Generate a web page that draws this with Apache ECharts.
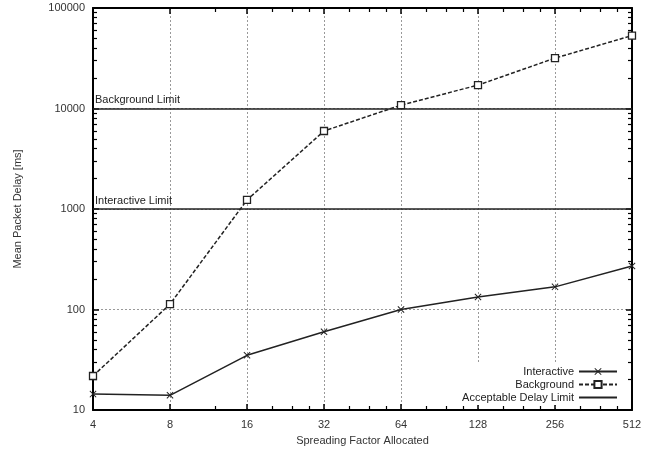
<!DOCTYPE html>
<html>
<head>
<meta charset="utf-8">
<script src="https://cdn.jsdelivr.net/npm/echarts@6/dist/echarts.min.js"></script>
<style>
html, body { margin: 0; padding: 0; background: #fff; }
#chart { width: 652px; height: 452px; }
</style>
</head>
<body>
<div id="chart"></div>
<script>
// data
var spreadingFactors = [4, 8, 16, 32, 64, 128, 256, 512];
var interactiveDelay = [14.4, 14, 35, 60, 100, 133, 168, 271];
var backgroundDelay = [21.8, 113, 1230, 5970, 10800, 17100, 31700, 53200];
var limitNames = ['Interactive Limit', 'Background Limit'];
var limitValues = [1000, 10000];

// minor tick positions (gnuplot style)
var xMinorTicks = [12, 20, 24, 28, 40, 48, 56, 80, 96, 112, 160, 192, 224, 320, 384, 448];
var yDecades = [10, 100, 1000, 10000];
var yMinorSteps = [2, 3, 4, 5, 6, 7, 8, 9];
var yMinorTicks = [];
yDecades.forEach(d => yMinorSteps.forEach(s => yMinorTicks.push(d * s)));

var FONT = 'Liberation Sans, Arial, sans-serif';
var INK = '#222';

// thick "x" marker like gnuplot point type 2
var crossPath = 'path://M0,1L1,0L5,4L9,0L10,1L6,5L10,9L9,10L5,6L1,10L0,9L4,5Z';

const pairs = (xs, ys) => xs.map((x, i) => [x, ys[i]]);

const xRange = { type: 'log', logBase: 2, min: 4, max: 512 };
const yRange = { type: 'log', logBase: 10, min: 10, max: 100000 };

// box side with major ticks
const majorAxis = (range, pos) => {
    return Object.assign({}, range, {
        position: pos,
        axisLine: { show: true, lineStyle: { color: '#000', width: 2 } },
        axisTick: { show: true, inside: true, length: 6, lineStyle: { color: '#000', width: 1.5 } },
        axisLabel: { show: false },
        splitLine: { show: false }
    });
};
// axis carrying only the minor ticks
const minorAxis = (range, pos, values) => {
    return Object.assign({}, range, {
        position: pos,
        axisLine: { show: false },
        axisTick: { show: true, inside: true, length: 4, customValues: values, lineStyle: { color: '#000', width: 1.2 } },
        axisLabel: { show: false, customValues: values },
        splitLine: { show: false }
    });
};

var chart = echarts.init(document.getElementById('chart'), null, { renderer: 'canvas' });

var xMain = majorAxis(xRange, 'bottom');
xMain.name = 'Spreading Factor Allocated';
xMain.nameLocation = 'middle';
xMain.nameGap = 25;
xMain.nameTextStyle = { fontSize: 11, color: '#333', fontFamily: FONT };
xMain.axisLabel = { show: true, fontSize: 11, color: '#333', margin: 9, fontFamily: FONT };
xMain.splitLine = { show: true, lineStyle: { type: [2, 2], color: '#999', width: 1 } };

var yMain = majorAxis(yRange, 'left');
yMain.name = 'Mean Packet Delay [ms]';
yMain.nameLocation = 'middle';
yMain.nameGap = 70;
yMain.nameTextStyle = { fontSize: 11, color: '#333', fontFamily: FONT };
yMain.axisLabel = { show: true, fontSize: 11, color: '#333', margin: 8, fontFamily: FONT, formatter: v => String(v) };
yMain.splitLine = { show: true, lineStyle: { type: [2, 2], color: '#999', width: 1 } };

var opts = {
    animation: false,
    backgroundColor: '#fff',
    textStyle: { fontFamily: FONT },
    grid: { left: 93, right: 20, top: 8, bottom: 42 },
    legend: {
        orient: 'vertical',
        right: 32,
        bottom: 47,
        align: 'right',
        itemWidth: 38,
        itemHeight: 9,
        itemGap: 2,
        padding: [2, 2, 2, 6],
        backgroundColor: '#fff',
        selectedMode: false,
        textStyle: { fontSize: 11, color: INK, fontFamily: FONT },
        data: ['Interactive', 'Background', 'Acceptable Delay Limit']
    },
    xAxis: [
        xMain,
        majorAxis(xRange, 'top'),
        minorAxis(xRange, 'bottom', xMinorTicks),
        minorAxis(xRange, 'top', xMinorTicks)
    ],
    yAxis: [
        yMain,
        majorAxis(yRange, 'right'),
        minorAxis(yRange, 'left', yMinorTicks),
        minorAxis(yRange, 'right', yMinorTicks)
    ],
    series: [
        {
            name: 'Interactive',
            type: 'line',
            data: pairs(spreadingFactors, interactiveDelay),
            symbol: crossPath,
            symbolSize: 7,
            itemStyle: { color: INK },
            lineStyle: { color: INK, width: 1.5 },
            z: 5
        },
        {
            name: 'Background',
            type: 'line',
            data: pairs(spreadingFactors, backgroundDelay),
            symbol: 'rect',
            symbolSize: 7,
            itemStyle: { color: '#fff', borderColor: INK, borderWidth: 1.3 },
            lineStyle: { color: INK, width: 1.5, type: [4, 2] },
            z: 5
        },
        {
            name: 'Acceptable Delay Limit',
            type: 'line',
            data: [],
            symbol: 'none',
            itemStyle: { opacity: 0 },
            lineStyle: { color: INK, width: 1.5 },
            markLine: {
                silent: true,
                symbol: 'none',
                lineStyle: { color: INK, width: 1.5, type: 'solid', opacity: 1 },
                itemStyle: { opacity: 1 },
                label: {
                    position: 'insideStartTop',
                    distance: [2, 3],
                    fontSize: 11,
                    color: INK,
                    fontFamily: FONT,
                    formatter: (p) => p.name
                },
                data: limitValues.map((v, i) => ({ name: limitNames[i], yAxis: v }))
            }
        }
    ]
};

chart.setOption(opts);
</script>
</body>
</html>
